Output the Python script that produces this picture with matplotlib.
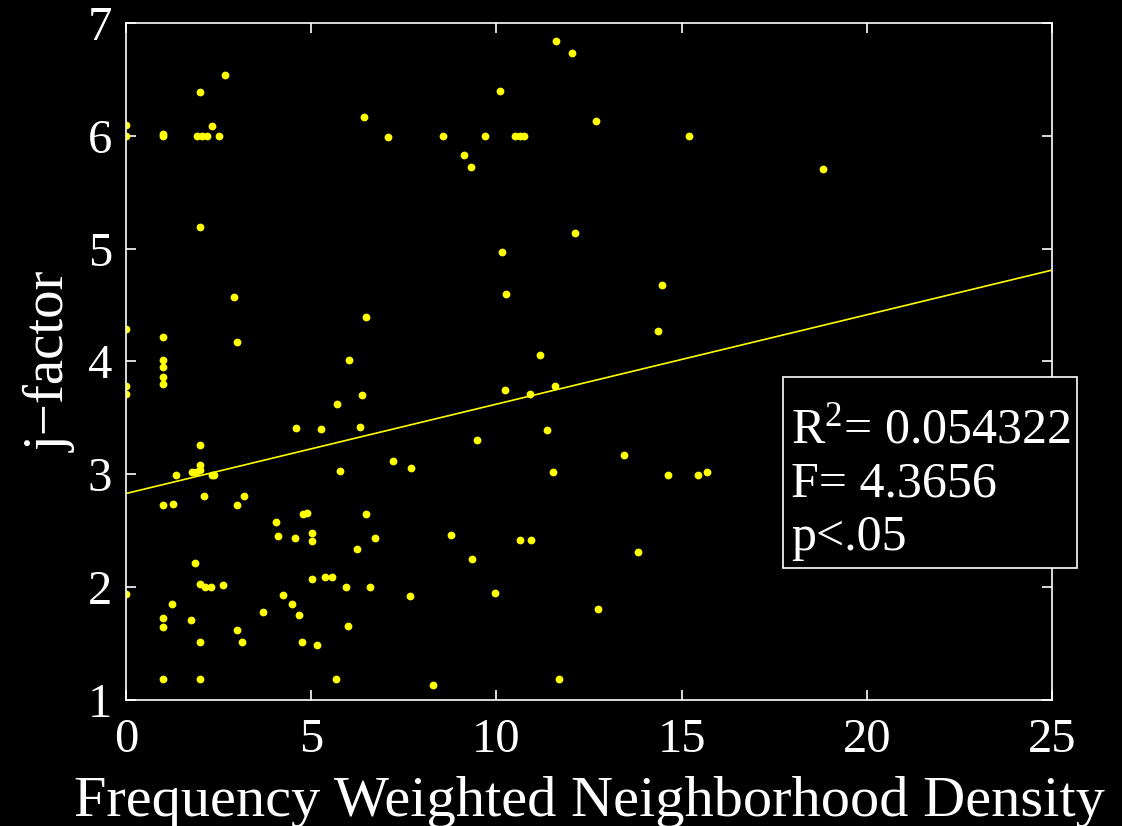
import matplotlib
matplotlib.use("Agg")
import matplotlib.pyplot as plt
from matplotlib.patches import Rectangle
import numpy as np

# ---- data ----
nd = [0, 0, 0, 0, 0, 0,
      1, 1, 1, 1, 1, 1, 1, 1, 1, 1, 1,
      1.27, 1.24, 1.35,
      1.99, 1.93, 2.05, 2.2, 2.32, 2.5, 2.67, 1.99, 2.91, 2.99, 1.99, 1.99, 1.99,
      1.79, 1.89, 2.32, 2.38, 2.11, 3.18, 2.99, 1.86, 1.99, 2.14, 2.29, 2.61,
      1.75, 2.99, 3.13, 1.99, 1.99,
      3.69, 4.05, 4.1, 4.25, 4.49, 4.55, 4.6, 4.66, 4.74, 4.78, 4.9, 5.01, 5.03,
      5.01, 5.17, 5.27, 5.36, 5.57, 5.68, 5.7, 5.78, 5.93, 6.0, 6.03, 6.24, 6.32,
      6.38, 6.43, 6.48, 6.49, 6.59, 6.73,
      7.08, 7.21, 7.67, 7.69, 8.29, 8.56, 8.77, 9.13, 9.32, 9.34, 9.47, 9.68,
      9.95, 10.09,
      10.14, 10.23, 10.25, 10.5, 10.63, 10.74, 10.63, 10.93, 10.92, 11.17, 11.36,
      11.54, 11.58, 11.6, 11.68, 12.03, 12.11, 12.7, 12.73,
      13.45, 13.83, 14.37, 14.48, 14.64, 15.21, 15.45, 15.69, 18.81]
jf = [6.1, 6.0, 4.29, 3.78, 3.71, 1.94,
      6.02, 6.0, 4.22, 4.01, 3.95, 3.86, 3.80, 2.73, 1.73, 1.65, 1.19,
      2.74, 1.85, 2.99,
      6.39, 6.0, 6.0, 6.0, 6.09, 6.0, 6.54, 5.19, 4.57, 4.17, 3.26, 3.08, 3.04,
      3.02, 3.02, 2.99, 2.99, 2.81, 2.81, 2.73, 2.21, 2.03, 2.0, 2.0, 2.02,
      1.71, 1.62, 1.51, 1.51, 1.19,
      1.78, 2.58, 2.45, 1.93, 1.85, 2.44, 3.41, 1.75, 1.51, 2.65, 2.66, 2.48, 2.41,
      2.07, 1.49, 3.40, 2.09, 2.09, 1.19, 3.62, 3.03, 2.0, 1.66, 4.01, 2.34, 3.42,
      3.70, 6.17, 4.39, 2.65, 2.0, 2.44,
      5.99, 3.12, 1.92, 3.06, 1.13, 6.0, 2.46, 5.83, 5.72, 2.25, 3.30, 6.0,
      1.95, 6.40,
      4.97, 3.75, 4.60, 6.0, 6.0, 6.0, 2.42, 2.42, 3.71, 4.06, 3.39,
      3.02, 3.78, 6.84, 1.19, 6.73, 5.14, 6.13, 1.81,
      3.17, 2.31, 4.27, 4.68, 2.99, 6.0, 2.99, 3.02, 5.71]

fit_intercept = 2.83
fit_slope = 0.0792
stats_lines = ["R$^{2}$= 0.054322", "F= 4.3656", "p<.05"]
x_ticks = [0, 5, 10, 15, 20, 25]
y_ticks = [1, 2, 3, 4, 5, 6, 7]

# ---- style ----
plt.rcParams['font.family'] = ['Liberation Serif', 'DejaVu Serif']
plt.rcParams['mathtext.default'] = 'regular'

W, H = 1122, 826
fig = plt.figure(figsize=(W / 100, H / 100), dpi=100, facecolor='black')
ax = fig.add_axes([126 / W, 1 - 700 / H, (1052 - 126) / W, (700 - 23) / H])
ax.set_facecolor('black')

ax.plot(nd, jf, linestyle='none', marker='o', markersize=5.6,
        color='#ffff00', markeredgewidth=0)
xl = np.array([0, 25])
ax.plot(xl, fit_intercept + fit_slope * xl, color='#ffff00', linewidth=1.2)

ax.set_xlim(0, 25)
ax.set_ylim(1, 7)
ax.set_xticks(x_ticks)
ax.set_yticks(y_ticks)
for s in ax.spines.values():
    s.set_color('white')
    s.set_linewidth(1.2)
ax.tick_params(direction='in', length=7, width=1.2, colors='white',
               labelsize=35, top=True, right=True)
ax.tick_params(axis='x', pad=13)
ax.tick_params(axis='y', pad=10)

ax.set_xlabel('Frequency Weighted Neighborhood Density', color='white',
              fontsize=42, labelpad=10)
ax.set_ylabel('j\u2212factor', color='white', fontsize=41, labelpad=8)

# stats box
fig.patches.append(Rectangle((783 / W, 1 - 568 / H), (1077 - 783) / W,
                             (568 - 377) / H, transform=fig.transFigure,
                             facecolor='black', edgecolor='white',
                             linewidth=1.2, zorder=5))
for line, base in zip(stats_lines, [443, 496, 550]):
    fig.text(791 / W, 1 - base / H, line, color='white',
             fontsize=36, va='baseline', ha='left', zorder=6)

fig.savefig('out.png', dpi=100, facecolor='black')
